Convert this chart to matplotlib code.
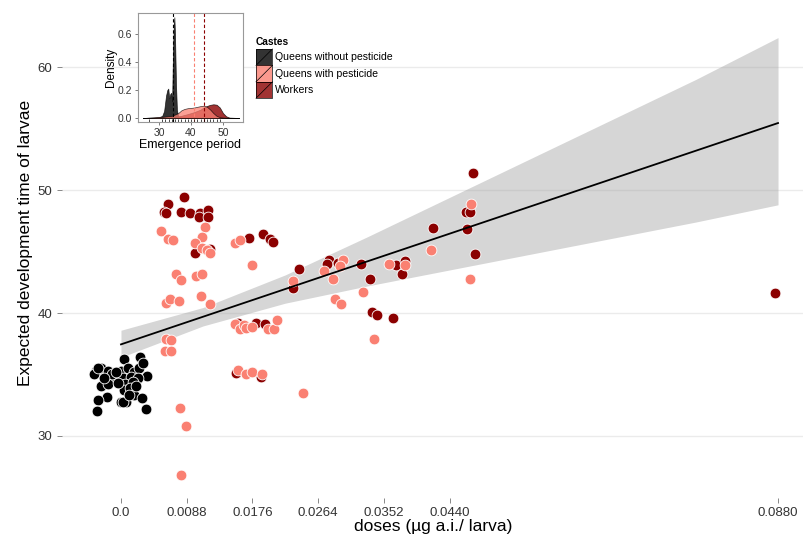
import numpy as np
import matplotlib
matplotlib.use("Agg")
import matplotlib.pyplot as plt
from matplotlib.patches import Rectangle
from matplotlib.lines import Line2D

plt.rcParams['font.family'] = ['Liberation Sans', 'DejaVu Sans']

# ---------------- main scatter data (dose, development time) ----------------
# queens without pesticide (jittered around dose 0)
dose_np = [0.0004, 0.0026, -0.0034, -0.0027, -0.0017, -0.0036, -0.0031, -0.0008, 0.0, 0.0009,
           0.0017, 0.0024, 0.0030, 0.0035, 0.0003, 0.0013, 0.0023, -0.0027, -0.0017, 0.0005,
           0.0016, 0.0004, 0.0012, -0.0019, -0.0031, 0.0017, 0.0028, 0.0, 0.0007, 0.0003,
           -0.0032, 0.0034, -0.0012, -0.0004, 0.0020, -0.0023, 0.0011, -0.0007]
time_np = [36.3, 36.4, 35.3, 35.5, 35.3, 35.0, 35.5, 34.7, 35.3, 35.5,
           35.2, 35.5, 35.9, 34.9, 34.7, 34.8, 34.7, 34.1, 34.2, 34.2,
           34.4, 33.7, 33.9, 33.2, 32.9, 33.3, 33.1, 32.8, 32.8, 32.8,
           32.0, 32.2, 35.0, 34.3, 34.1, 34.7, 33.3, 35.2]

# queens with pesticide
dose_qp = [0.0053, 0.0063, 0.0069, 0.0113, 0.0108, 0.0099, 0.0109, 0.0115, 0.0119, 0.0074,
           0.0080, 0.0101, 0.0109, 0.0060, 0.0065, 0.0078, 0.0107, 0.0119, 0.0060, 0.0067,
           0.0059, 0.0067, 0.0079, 0.0087, 0.0081,
           0.0153, 0.0160, 0.0176, 0.0153, 0.0159, 0.0165, 0.0168, 0.0176, 0.0197, 0.0205,
           0.0209, 0.0157, 0.0168, 0.0176, 0.0189,
           0.0231, 0.0298, 0.0293, 0.0272, 0.0284, 0.0286, 0.0295, 0.0244,
           0.0324, 0.0359, 0.0381, 0.0339,
           0.0469, 0.0415, 0.0467]
time_qp = [46.7, 46.0, 45.9, 47.0, 46.2, 45.7, 45.3, 45.1, 44.9, 43.2,
           42.7, 43.0, 43.2, 40.8, 41.1, 41.0, 41.4, 40.7, 37.9, 37.8,
           36.9, 36.9, 32.3, 30.8, 26.8,
           45.7, 45.9, 43.9, 39.1, 38.7, 39.0, 38.8, 38.9, 38.7, 38.7,
           39.4, 35.4, 35.0, 35.2, 35.0,
           42.6, 44.3, 43.8, 43.4, 42.8, 41.1, 40.7, 33.5,
           41.7, 44.0, 43.9, 37.9,
           48.9, 45.1, 42.8]

# workers
dose_w = [0.0084, 0.0063, 0.0057, 0.0060, 0.0081, 0.0092, 0.0106, 0.0116, 0.0105, 0.0117,
          0.0099, 0.0119,
          0.0171, 0.0190, 0.0200, 0.0203, 0.0157, 0.0181, 0.0193, 0.0154, 0.0187,
          0.0238, 0.0230, 0.0279, 0.0276, 0.0291, 0.0322, 0.0333,
          0.0336, 0.0343, 0.0364, 0.0369, 0.0380, 0.0376,
          0.0472, 0.0462, 0.0468, 0.0418, 0.0464, 0.0474,
          0.0876]
time_w = [49.4, 48.9, 48.2, 48.1, 48.2, 48.1, 48.1, 48.4, 47.8, 47.8,
          44.9, 45.2,
          46.1, 46.4, 46.0, 45.8, 39.2, 39.2, 39.1, 35.1, 34.8,
          43.6, 42.0, 44.3, 44.0, 44.1, 44.0, 42.8,
          40.1, 39.8, 39.6, 43.9, 44.25, 43.15,
          51.4, 48.2, 48.2, 46.9, 46.8, 44.8,
          41.65]

# linear fit with confidence band
fit_dose = [0.0, 0.011, 0.022, 0.033, 0.044, 0.055, 0.066, 0.077, 0.088]
fit_mean = [37.45, 39.7, 41.95, 44.2, 46.45, 48.7, 50.95, 53.2, 55.45]
fit_lo = [36.4, 38.95, 40.8, 42.2, 43.5, 44.8, 46.1, 47.4, 48.8]
fit_hi = [38.6, 40.45, 43.1, 46.2, 49.4, 52.6, 55.8, 59.0, 62.4]

dose_ticks = [0.0, 0.0088, 0.0176, 0.0264, 0.0352, 0.0440, 0.0880]
dose_labels = ['0.0', '0.0088', '0.0176', '0.0264', '0.0352', '0.0440', '0.0880']

# ---------------- inset: emergence period densities ----------------
castes = ['Queens without pesticide', 'Queens with pesticide', 'Workers']
dens_x_np = [25, 28, 30, 31, 31.6, 32.2, 32.6, 32.9, 33.2, 33.5, 33.8, 34.1, 34.4, 34.6,
             34.8, 35.0, 35.3, 35.6, 36.0, 37, 40, 45, 50, 55]
dens_np = [0, 0.003, 0.006, 0.015, 0.05, 0.16, 0.20, 0.21, 0.14, 0.17, 0.18, 0.12, 0.50, 0.65,
           0.72, 0.60, 0.25, 0.06, 0.01, 0.004, 0.003, 0.002, 0.001, 0]
dens_x_qp = [25, 28, 31, 34, 36, 37, 38, 39, 40, 41, 42, 43, 44, 45, 46, 47, 48, 49, 50, 52, 55]
dens_qp = [0, 0.004, 0.008, 0.015, 0.035, 0.055, 0.065, 0.07, 0.072, 0.075, 0.08, 0.085,
           0.088, 0.08, 0.06, 0.035, 0.015, 0.006, 0.003, 0.001, 0]
dens_x_w = [25, 30, 33, 35, 37, 39, 41, 43, 44, 45, 46, 47, 48, 49, 50, 51, 52, 55]
dens_w = [0, 0.001, 0.003, 0.008, 0.016, 0.028, 0.042, 0.06, 0.075, 0.086, 0.094, 0.098,
          0.095, 0.075, 0.035, 0.012, 0.003, 0]
mean_emergence = [34.4, 40.8, 44.1]
rug_days = [27, 31, 32, 33, 34, 35, 36, 37, 38, 39, 40, 41, 42, 43, 44, 45, 46, 47, 48, 49]

col_np, col_qp, col_w = 'black', '#fa8072', '#8b0000'
W, H = 804, 539


def fx(px):
    return px / W


def fy(py):
    return 1 - py / H


fig = plt.figure(figsize=(W / 100, H / 100), dpi=100)

# ---------------- main panel ----------------
ax = fig.add_axes([fx(62), fy(497.7), fx(804) - fx(62), (497.7 - 13) / H])
ax.fill_between(fit_dose, fit_lo, fit_hi, color='#999999', alpha=0.4, lw=0, zorder=1)
ax.scatter(dose_np, time_np, s=60, color=col_np, edgecolor='white', lw=0.6, zorder=2)
ax.scatter(dose_w, time_w, s=60, color=col_w, edgecolor='white', lw=0.6, zorder=2)
ax.scatter(dose_qp, time_qp, s=60, color=col_qp, edgecolor='white', lw=0.6, zorder=2)
ax.plot(fit_dose, fit_mean, color='black', lw=1.3, zorder=3)

ax.set_xlim(-0.0079, 0.09148)
ax.set_ylim(24.98, 64.4)
ax.set_xticks(dose_ticks)
ax.set_xticklabels(dose_labels)
ax.set_yticks([30, 40, 50, 60])
ax.tick_params(axis='both', colors='#333333', labelsize=9.5, length=3.5, width=0.7)
ax.tick_params(axis='both', color='#888888')
for sp in ax.spines.values():
    sp.set_visible(False)
ax.yaxis.grid(True, color='#ebebeb', lw=1.0)
ax.set_axisbelow(True)
ax.set_xlabel('doses (µg a.i./ larva)', fontsize=12.5)
ax.set_ylabel('Expected development time of larvae', fontsize=12.5)
ax.xaxis.set_label_coords(0.5, -0.043)
ax.yaxis.set_label_coords(-0.039, 0.525)

# ---------------- inset ----------------
axi = fig.add_axes([fx(138), fy(122), (243 - 138) / W, (122 - 13) / H])
axi.set_facecolor('white')
axi.fill_between(dens_x_np, dens_np, color=col_np, alpha=0.8, edgecolor='black', lw=0.5)
axi.fill_between(dens_x_w, dens_w, color=col_w, alpha=0.8, edgecolor='black', lw=0.5)
axi.fill_between(dens_x_qp, dens_qp, color=col_qp, alpha=0.75, edgecolor='black', lw=0.5)
for m, c in zip(mean_emergence, [col_np, col_qp, col_w]):
    axi.axvline(m, color=c, ls='--', lw=0.8, dashes=(3, 2))
axi.vlines(rug_days, -0.0286, -0.006, color='black', lw=0.5)
axi.set_xlim(23.44, 56.25)
axi.set_ylim(-0.0286, 0.75)
axi.set_xticks([30, 40, 50])
axi.set_yticks([0.0, 0.2, 0.4, 0.6])
axi.set_yticklabels(['0.0', '0.2', '0.4', '0.6'])
axi.tick_params(labelsize=7.5, colors='#333333', length=2.5, width=0.6, pad=1.5)
axi.tick_params(color='#666666')
for sp in axi.spines.values():
    sp.set_color('#999999')
    sp.set_linewidth(0.8)
axi.set_xlabel('Emergence period', fontsize=9, labelpad=1)
axi.set_ylabel('Density', fontsize=8.5, labelpad=1)

# inset legend
fig.text(fx(256), fy(42), 'Castes', fontsize=7.3, fontweight='bold', va='center', ha='left')
key_fill = [col_np, col_qp, col_w]
for i, (lab, c) in enumerate(zip(castes, key_fill)):
    top = 49 + i * 16.4
    r = Rectangle((fx(256), fy(top + 16.4)), fx(16.4), 16.4 / H, transform=fig.transFigure,
                  facecolor=c, alpha=0.8, edgecolor='none')
    fig.add_artist(r)
    r2 = Rectangle((fx(256), fy(top + 16.4)), fx(16.4), 16.4 / H, transform=fig.transFigure,
                   facecolor='none', edgecolor='black', lw=0.5)
    fig.add_artist(r2)
    fig.add_artist(Line2D([fx(256), fx(272.4)], [fy(top + 16.4), fy(top)],
                          transform=fig.transFigure, color='black', lw=0.5))
    fig.text(fx(275), fy(top + 8.2), lab, fontsize=7.6, va='center', ha='left')

fig.savefig('out.png', dpi=100, facecolor='white')
